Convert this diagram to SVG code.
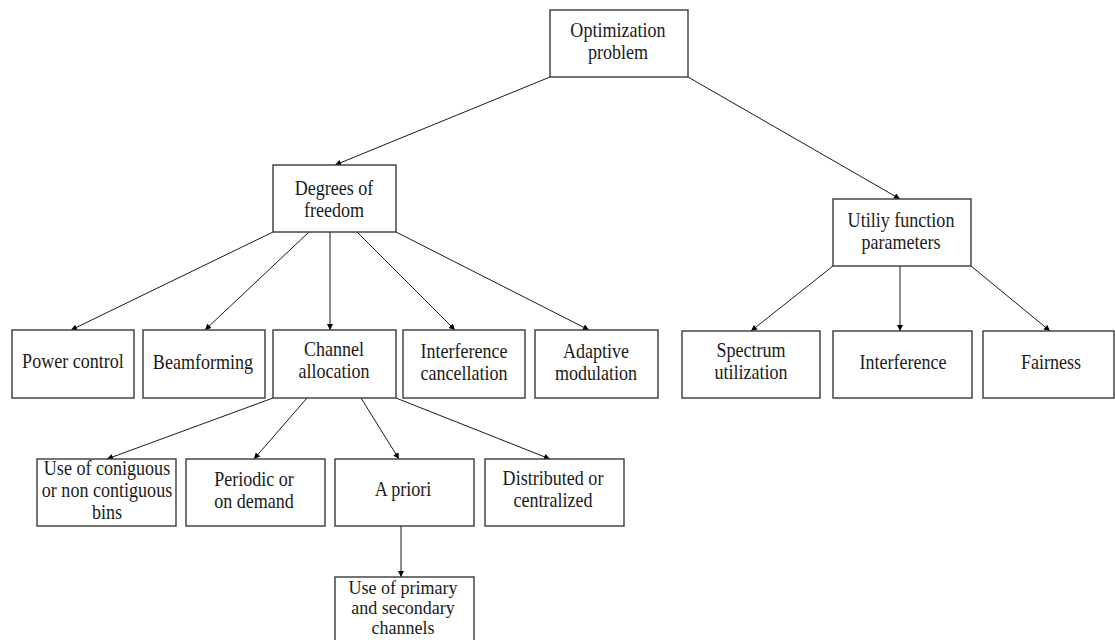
<svg xmlns="http://www.w3.org/2000/svg" width="1115" height="640" viewBox="0 0 1115 640">
<style>
.box{fill:#fff;stroke:#3a3a3a;stroke-width:1.4}
.lbl{font-family:"Liberation Serif","Times New Roman",serif;font-size:21px;fill:#1a1a1a;text-anchor:middle}
.sm{font-size:19px}
.edge{stroke:#1a1a1a;stroke-width:1;fill:none;marker-end:url(#arr)}
</style>
<defs>
<marker id="arr" viewBox="0 0 10 10" refX="10" refY="5" markerWidth="7" markerHeight="6" markerUnits="userSpaceOnUse" orient="auto">
<path d="M0,0 L10,5 L0,10 z" fill="#000"/>
</marker>
</defs>
<rect width="1115" height="640" fill="#fff"/>
<g id="connectors">
<line class="edge" x1="550" y1="77" x2="335" y2="165"/>
<line class="edge" x1="688" y1="77" x2="900" y2="199"/>
<line class="edge" x1="273" y1="232" x2="71" y2="330"/>
<line class="edge" x1="309" y1="232" x2="205" y2="330"/>
<line class="edge" x1="330" y1="232" x2="330" y2="330"/>
<line class="edge" x1="357" y1="232" x2="455" y2="330"/>
<line class="edge" x1="396" y1="232" x2="589" y2="330"/>
<line class="edge" x1="833" y1="266" x2="751" y2="331"/>
<line class="edge" x1="900" y1="266" x2="900" y2="331"/>
<line class="edge" x1="971" y1="266" x2="1050" y2="331"/>
<line class="edge" x1="273" y1="398" x2="107" y2="459"/>
<line class="edge" x1="307" y1="398" x2="254" y2="459"/>
<line class="edge" x1="361" y1="398" x2="399" y2="459"/>
<line class="edge" x1="396" y1="398" x2="550" y2="459"/>
<line class="edge" x1="401" y1="526" x2="401" y2="577"/>
</g>
<g id="optimization">
<rect class="box" x="550" y="10" width="138" height="67"/>
<text class="lbl" transform="translate(618,37) scale(0.86,1)"><tspan x="0" y="0">Optimization</tspan><tspan x="0" y="22">problem</tspan></text>
</g>
<g id="degrees">
<rect class="box" x="273" y="165" width="123" height="67"/>
<text class="lbl" transform="translate(334,195) scale(0.86,1)"><tspan x="0" y="0">Degrees of</tspan><tspan x="0" y="22">freedom</tspan></text>
</g>
<g id="utility">
<rect class="box" x="833" y="199" width="138" height="67"/>
<text class="lbl" transform="translate(901,227) scale(0.86,1)"><tspan x="0" y="0">Utiliy function</tspan><tspan x="0" y="22">parameters</tspan></text>
</g>
<g id="power">
<rect class="box" x="12" y="330" width="122" height="68"/>
<text class="lbl" transform="translate(73,368) scale(0.86,1)">Power control</text>
</g>
<g id="beamforming">
<rect class="box" x="143" y="330" width="122" height="68"/>
<text class="lbl" transform="translate(203,369) scale(0.86,1)">Beamforming</text>
</g>
<g id="channel">
<rect class="box" x="273" y="330" width="123" height="68"/>
<text class="lbl" transform="translate(334,356) scale(0.86,1)"><tspan x="0" y="0">Channel</tspan><tspan x="0" y="22">allocation</tspan></text>
</g>
<g id="intcancel">
<rect class="box" x="403" y="330" width="122" height="68"/>
<text class="lbl" transform="translate(464,358) scale(0.86,1)"><tspan x="0" y="0">Interference</tspan><tspan x="0" y="22">cancellation</tspan></text>
</g>
<g id="adaptive">
<rect class="box" x="535" y="330" width="123" height="68"/>
<text class="lbl" transform="translate(596,358) scale(0.86,1)"><tspan x="0" y="0">Adaptive</tspan><tspan x="0" y="22">modulation</tspan></text>
</g>
<g id="spectrum">
<rect class="box" x="682" y="331" width="138" height="67"/>
<text class="lbl" transform="translate(751,357) scale(0.86,1)"><tspan x="0" y="0">Spectrum</tspan><tspan x="0" y="22">utilization</tspan></text>
</g>
<g id="interference">
<rect class="box" x="833" y="331" width="139" height="67"/>
<text class="lbl" transform="translate(903,369) scale(0.86,1)">Interference</text>
</g>
<g id="fairness">
<rect class="box" x="983" y="331" width="131" height="67"/>
<text class="lbl" transform="translate(1051,369) scale(0.86,1)">Fairness</text>
</g>
<g id="contiguous">
<rect class="box" x="37" y="459" width="139" height="67"/>
<text class="lbl" transform="translate(107,475) scale(0.86,1)"><tspan x="0" y="0">Use of coniguous</tspan><tspan x="0" y="22">or non contiguous</tspan><tspan x="0" y="44">bins</tspan></text>
</g>
<g id="periodic">
<rect class="box" x="186" y="459" width="139" height="67"/>
<text class="lbl" transform="translate(254,486) scale(0.86,1)"><tspan x="0" y="0">Periodic or</tspan><tspan x="0" y="22">on demand</tspan></text>
</g>
<g id="apriori">
<rect class="box" x="335" y="459" width="139" height="67"/>
<text class="lbl" transform="translate(403,496) scale(0.86,1)">A priori</text>
</g>
<g id="distributed">
<rect class="box" x="485" y="459" width="139" height="67"/>
<text class="lbl" transform="translate(553,485) scale(0.86,1)"><tspan x="0" y="0">Distributed or</tspan><tspan x="0" y="22">centralized</tspan></text>
</g>
<g id="primary">
<rect class="box" x="335" y="577" width="139" height="70"/>
<text class="lbl sm" transform="translate(403,594) scale(0.95,1)"><tspan x="0" y="0">Use of primary</tspan><tspan x="0" y="20.5">and secondary</tspan><tspan x="0" y="40">channels</tspan></text>
</g>
</svg>
